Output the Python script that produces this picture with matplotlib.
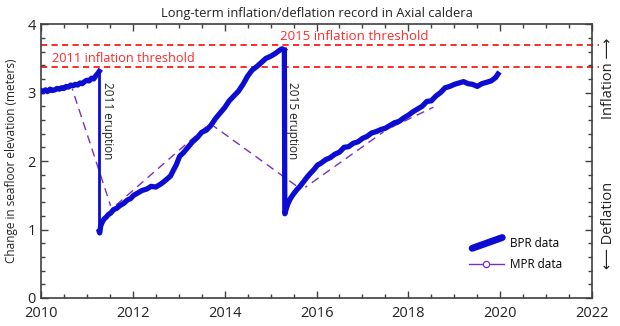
import matplotlib
matplotlib.use("Agg")
import matplotlib.pyplot as plt
from matplotlib.lines import Line2D
from matplotlib.legend_handler import HandlerBase
from matplotlib.ticker import MultipleLocator

plt.rcParams['font.family'] = ['Open Sans', 'DejaVu Sans']

# ---- data ----
bpr_t1 = [2010.0, 2010.05, 2010.1, 2010.15, 2010.2, 2010.25, 2010.3, 2010.35, 2010.4, 2010.45,
          2010.5, 2010.55, 2010.6, 2010.65, 2010.7, 2010.75, 2010.8, 2010.85, 2010.9, 2010.95,
          2011.0, 2011.05, 2011.1, 2011.15, 2011.2, 2011.24, 2011.27]
bpr_v1 = [3.03, 3.01, 3.04, 3.02, 3.05, 3.03, 3.04, 3.06, 3.05, 3.07,
          3.06, 3.09, 3.08, 3.11, 3.10, 3.12, 3.11, 3.14, 3.13, 3.16,
          3.18, 3.17, 3.21, 3.20, 3.25, 3.28, 3.31]

bpr_t2 = [2011.27, 2011.28, 2011.30, 2011.33, 2011.37, 2011.42, 2011.47, 2011.52, 2011.58, 2011.65,
          2011.72, 2011.8, 2011.88, 2011.95, 2012.02, 2012.1, 2012.2, 2012.3, 2012.4, 2012.5,
          2012.6, 2012.68, 2012.75, 2012.82, 2012.88, 2012.95, 2013.02, 2013.1, 2013.2, 2013.3,
          2013.4, 2013.5, 2013.6, 2013.7, 2013.8, 2013.9, 2014.0, 2014.1, 2014.2, 2014.3,
          2014.4, 2014.5, 2014.6, 2014.7, 2014.8, 2014.9, 2015.0, 2015.1, 2015.2, 2015.25, 2015.30]
bpr_v2 = [0.97, 0.95, 1.05, 1.10, 1.15, 1.18, 1.22, 1.24, 1.29, 1.31,
          1.35, 1.38, 1.43, 1.45, 1.50, 1.53, 1.57, 1.59, 1.63, 1.62,
          1.66, 1.70, 1.74, 1.78, 1.86, 1.95, 2.07, 2.12, 2.20, 2.28,
          2.34, 2.42, 2.45, 2.52, 2.62, 2.70, 2.78, 2.88, 2.95, 3.02,
          3.12, 3.24, 3.33, 3.38, 3.44, 3.50, 3.53, 3.57, 3.62, 3.64, 3.62]

bpr_t3 = [2015.30, 2015.31, 2015.34, 2015.38, 2015.43, 2015.5, 2015.57, 2015.64, 2015.72, 2015.8,
          2015.88, 2015.95, 2016.02, 2016.1, 2016.2, 2016.3, 2016.4, 2016.5, 2016.6, 2016.7,
          2016.8, 2016.9, 2017.0, 2017.1, 2017.2, 2017.3, 2017.4, 2017.5, 2017.6, 2017.7,
          2017.8, 2017.9, 2018.0, 2018.1, 2018.2, 2018.3, 2018.4, 2018.5, 2018.6, 2018.7,
          2018.8, 2018.9, 2019.0, 2019.1, 2019.2, 2019.3, 2019.4, 2019.5, 2019.6, 2019.7,
          2019.8, 2019.9, 2019.95]
bpr_v3 = [3.62, 1.23, 1.30, 1.38, 1.45, 1.52, 1.58, 1.63, 1.70, 1.77,
          1.83, 1.88, 1.94, 1.97, 2.02, 2.05, 2.10, 2.13, 2.20, 2.21,
          2.26, 2.28, 2.33, 2.36, 2.41, 2.43, 2.46, 2.48, 2.52, 2.56,
          2.58, 2.63, 2.67, 2.72, 2.76, 2.80, 2.87, 2.88, 2.95, 3.00,
          3.07, 3.09, 3.12, 3.14, 3.16, 3.13, 3.12, 3.09, 3.13, 3.15,
          3.17, 3.22, 3.27]

mpr_t = [2010.02, 2010.65, 2011.54, 2013.68, 2015.68, 2017.53, 2018.62]
mpr_v = [3.03, 3.12, 1.30, 2.55, 1.58, 2.46, 2.81]

threshold_2011 = 3.37
threshold_2015 = 3.69

BLUE = '#0c0cd2'
PURPLE = '#7b2fc0'
RED = '#ff2a2a'
AXC = '#404040'

fig = plt.figure(figsize=(6.2, 3.26), dpi=100)
ax = fig.add_axes([0.066, 0.086, 0.889, 0.840])

# thresholds
for thr in (threshold_2011, threshold_2015):
    ax.plot([2010, 2022.15], [thr, thr], ls=(0, (3.2, 2.2)), color=RED, lw=1.4,
            clip_on=False, zorder=1)

# MPR
ax.plot(mpr_t, mpr_v, ls=(0, (6, 4)), color=PURPLE, lw=1.0, zorder=2)
ax.plot(mpr_t, mpr_v, ls='none', marker='o', ms=5, mfc='white', mec='white', zorder=2.5)

# BPR
for t, v in ((bpr_t1, bpr_v1), (bpr_t2, bpr_v2), (bpr_t3, bpr_v3)):
    ax.plot(t, v, color=BLUE, lw=3.8, solid_joinstyle='round', zorder=3)
# vertical eruption drops drawn thinner
ax.plot([bpr_t1[-1], bpr_t2[0]], [bpr_v1[-1], bpr_v2[0]], color=BLUE, lw=2.0, zorder=3)
ax.plot([bpr_t3[0], bpr_t3[1]], [bpr_v3[0], bpr_v3[1]], color=BLUE, lw=2.0, zorder=3)

# annotations
ax.text(2010.25, threshold_2011 + 0.03, '2011 inflation threshold', color=RED, fontsize=9.2,
        ha='left', va='bottom')
ax.text(2015.2, threshold_2015 + 0.03, '2015 inflation threshold', color=RED, fontsize=9.5,
        ha='left', va='bottom')
ax.text(2011.45, 3.15, '2011 eruption', rotation=-90, fontsize=8.5, ha='center', va='top',
        color='#222222')
ax.text(2015.47, 3.15, '2015 eruption', rotation=-90, fontsize=8.5, ha='center', va='top',
        color='#222222')

ax.set_xlim(2010, 2022)
ax.set_ylim(0, 4)
ax.xaxis.set_major_locator(MultipleLocator(2))
ax.xaxis.set_minor_locator(MultipleLocator(0.5))
ax.yaxis.set_major_locator(MultipleLocator(1))
ax.yaxis.set_minor_locator(MultipleLocator(0.2))
ax.tick_params(which='both', direction='in', top=True, right=True, colors=AXC,
               labelcolor='#222222', width=1.0)
ax.tick_params(which='major', length=5, labelsize=10.5)
ax.tick_params(which='minor', length=3)
ax.tick_params(axis='x', pad=6)
for s in ax.spines.values():
    s.set_color(AXC)
    s.set_linewidth(1.2)

ax.set_ylabel('Change in seafloor elevation (meters)', fontsize=8.5, labelpad=7, color='#222222')
ax.set_title('Long-term inflation/deflation record in Axial caldera', fontsize=9.3,
             color='#222222', pad=5)

fig.text(0.982, 0.76, 'Inflation \u27f6', rotation=90, fontsize=10.5, ha='center', va='center',
         color='#222222', family=['Open Sans', 'DejaVu Sans'])
fig.text(0.982, 0.31, '\u27f5 Deflation', rotation=90, fontsize=10.5, ha='center', va='center',
         color='#222222', family=['Open Sans', 'DejaVu Sans'])


class SlantHandler(HandlerBase):
    def create_artists(self, legend, orig_handle, xdescent, ydescent, width, height,
                       fontsize, trans):
        ln = Line2D([0.1 * width, 0.95 * width], [-0.2 * height, 1.1 * height],
                    color=BLUE, lw=5, solid_capstyle='round')
        ln.set_transform(trans)
        return [ln]


bpr_handle = Line2D([], [], color=BLUE, lw=4)
mpr_handle = Line2D([], [], color=PURPLE, lw=1.0, ls='-', marker='o', ms=4.5,
                    mfc='white', mec=PURPLE, mew=0.9)
ax.legend([bpr_handle, mpr_handle], ['BPR data', 'MPR data'],
          handler_map={bpr_handle: SlantHandler()},
          loc='lower right', bbox_to_anchor=(0.965, 0.06), frameon=False,
          fontsize=8.5, handlelength=3.0, handletextpad=0.5, labelspacing=0.7)

fig.savefig('out.png', dpi=100)
